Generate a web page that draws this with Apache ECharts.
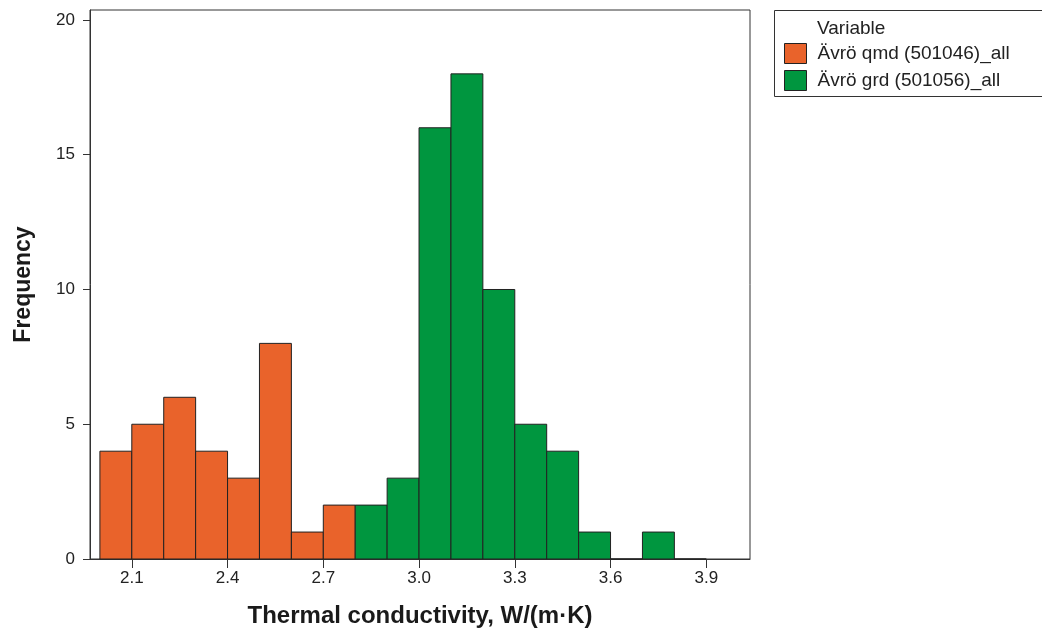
<!DOCTYPE html>
<html>
<head>
<meta charset="utf-8">
<script src="https://cdn.jsdelivr.net/npm/echarts@6/dist/echarts.min.js"></script>
<style>
  html, body { margin: 0; padding: 0; background: #fff; }
  #main { width: 1042px; height: 633px; }
</style>
</head>
<body>
<div id="main"></div>
<script>
// bin edges (width 0.1) and counts
var qmdStart = [2.0, 2.1, 2.2, 2.3, 2.4, 2.5, 2.6, 2.7];
var qmdCount = [4, 5, 6, 4, 3, 8, 1, 2];
var grdStart = [2.8, 2.9, 3.0, 3.1, 3.2, 3.3, 3.4, 3.5, 3.6, 3.7, 3.8];
var grdCount = [2, 3, 16, 18, 10, 5, 4, 1, 0, 1, 0];
var binWidth = 0.1;
var xTicks = [2.1, 2.4, 2.7, 3.0, 3.3, 3.6, 3.9];
var yTicks = [0, 5, 10, 15, 20];
var seriesNames = ['Ävrö qmd (501046)_all', 'Ävrö grd (501056)_all'];
var colors = ['#E9632B', '#00963F'];

function toData(starts, counts) {
    return starts.map(function (s, i) { return [s, s + binWidth, counts[i]]; });
}

// one rectangle per bin, from the axis scales
function renderBin(params, api) {
    var p0 = api.coord([api.value(0), 0]);
    var p1 = api.coord([api.value(1), api.value(2)]);
    return {
        type: 'rect',
        shape: { x: p0[0], y: p1[1], width: p1[0] - p0[0], height: p0[1] - p1[1] },
        style: { fill: api.visual('color'), stroke: '#222', lineWidth: 1 }
    };
}

var chart = echarts.init(document.getElementById('main'));
var font = '"Liberation Sans", Arial, sans-serif';

var option = {
    animation: false,
    grid: {
        left: 90, right: 292, top: 10, bottom: 73,
        show: true, borderColor: '#333', borderWidth: 1
    },
    xAxis: {
        type: 'value',
        min: 1.969, max: 4.037,
        name: 'Thermal conductivity, W/(m·K)',
        nameLocation: 'middle',
        nameGap: 45,
        nameTextStyle: { fontFamily: font, fontWeight: 'bold', fontSize: 24, color: '#1a1a1a' },
        axisLine: { show: true, lineStyle: { color: '#333' } },
        axisTick: { show: true, length: 9, customValues: xTicks, lineStyle: { color: '#333' } },
        axisLabel: {
            customValues: xTicks, margin: 11,
            fontFamily: font, fontSize: 17, color: '#222',
            formatter: function (v) { return v.toFixed(1); }
        },
        splitLine: { show: false }
    },
    yAxis: {
        type: 'value',
        min: 0, max: 20.37,
        name: 'Frequency',
        nameLocation: 'middle',
        nameGap: 55,
        nameTextStyle: { fontFamily: font, fontWeight: 'bold', fontSize: 23, color: '#1a1a1a' },
        axisLine: { show: true, lineStyle: { color: '#333' } },
        axisTick: { show: true, length: 7, customValues: yTicks, lineStyle: { color: '#333' } },
        axisLabel: {
            customValues: yTicks, margin: 15,
            fontFamily: font, fontSize: 17, color: '#222'
        },
        splitLine: { show: false }
    },
    legend: {
        orient: 'vertical',
        left: 779, top: 38,
        itemWidth: 22, itemHeight: 20, itemGap: 6,
        textStyle: { fontFamily: font, fontSize: 19, lineHeight: 20, color: '#222', padding: [0, 0, 0, 6] },
        itemStyle: { borderColor: '#222', borderWidth: 1 },
        data: [
            { name: seriesNames[0], icon: 'rect' },
            { name: seriesNames[1], icon: 'rect' }
        ]
    },
    graphic: [
        {
            type: 'rect',
            shape: { x: 774.5, y: 10.5, width: 280, height: 86 },
            style: { fill: 'none', stroke: '#333', lineWidth: 1 }
        },
        {
            type: 'text',
            x: 817, y: 29,
            style: { text: 'Variable', fontFamily: font, fontSize: 19, fill: '#222', verticalAlign: 'middle' }
        }
    ],
    series: [
        {
            name: seriesNames[0],
            type: 'custom',
            renderItem: renderBin,
            itemStyle: { color: colors[0] },
            encode: { x: [0, 1], y: 2 },
            data: toData(qmdStart, qmdCount)
        },
        {
            name: seriesNames[1],
            type: 'custom',
            renderItem: renderBin,
            itemStyle: { color: colors[1] },
            encode: { x: [0, 1], y: 2 },
            data: toData(grdStart, grdCount)
        }
    ]
};

chart.setOption(option);
</script>
</body>
</html>
